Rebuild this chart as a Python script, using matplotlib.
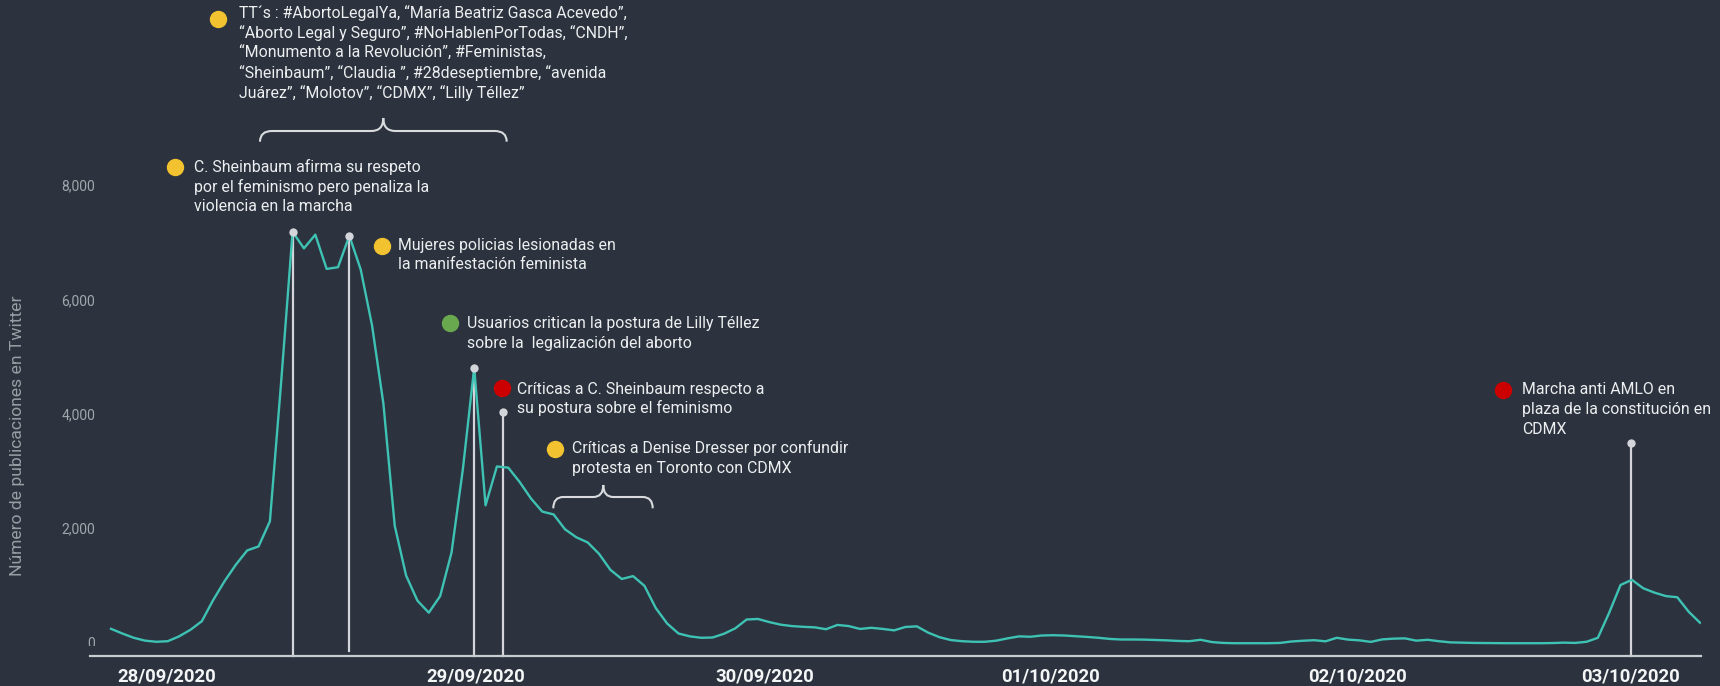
import matplotlib
matplotlib.use("Agg")
import matplotlib.pyplot as plt
from matplotlib.path import Path
from matplotlib.patches import PathPatch
from matplotlib.transforms import Bbox, TransformedBbox, blended_transform_factory

# ---------------- data ----------------
values = [257, 175, 100, 50, 30, 40, 125, 240, 390, 760,
          1090, 1380, 1630, 1700, 2140, 4600, 7210, 6920, 7160, 6560,
          6590, 7140, 6550, 5570, 4200, 2060, 1190, 750, 540, 830,
          1590, 3050, 4830, 2420, 3100, 3080, 2830, 2540, 2310, 2260,
          2000, 1860, 1770, 1570, 1290, 1130, 1180, 1010, 620, 350,
          175, 125, 100, 105, 170, 265, 420, 430, 375, 330,
          305, 292, 283, 250, 325, 305, 255, 275, 255, 230,
          290, 300, 190, 110, 60, 40, 30, 30, 50, 90,
          125, 118, 140, 145, 140, 128, 115, 100, 80, 70,
          70, 68, 62, 55, 45, 40, 65, 25, 10, 5,
          5, 5, 5, 10, 35, 48, 58, 38, 100, 68,
          55, 28, 72, 85, 90, 50, 65, 40, 20, 15,
          10, 8, 5, 5, 5, 5, 5, 8, 15, 10,
          30, 100, 540, 1025, 1115, 967, 890, 830, 810, 557,
          364]
x_idx = list(range(len(values)))

date_labels = ["28/09/2020", "29/09/2020", "30/09/2020",
               "01/10/2020", "02/10/2020", "03/10/2020"]
date_pos = [4.9, 32.1, 57.6, 82.8, 109.8, 133.9]

y_ticks = [0, 2000, 4000, 6000, 8000]
y_tick_labels = ["0", "2,000", "4,000", "6,000", "8,000"]

# event markers (x index, dot height, bottom of stem)
marker_x = [16, 21, 32, 34.5, 133.9]
marker_top = [7210, 7140, 4830, 4060, 3520]
marker_bottom = [-219, -130, -219, -219, -219]

# annotation texts
ann_tt = ["TT´s : #AbortoLegalYa, “María Beatriz Gasca Acevedo”,",
          "“Aborto Legal y Seguro”, #NoHablenPorTodas, “CNDH”,",
          "“Monumento a la Revolución”, #Feministas,",
          "“Sheinbaum”, “Claudia ”, #28deseptiembre, “avenida",
          "Juárez”, “Molotov”, “CDMX”, “Lilly Téllez”"]
ann_shein = ["C. Sheinbaum afirma su respeto",
             "por el feminismo pero penaliza la",
             "violencia en la marcha"]
ann_mujeres = ["Mujeres policias lesionadas en",
               "la manifestación feminista"]
ann_usuarios = ["Usuarios critican la postura de Lilly Téllez",
                "sobre la  legalización del aborto"]
ann_criticas = ["Críticas a C. Sheinbaum respecto a",
                "su postura sobre el feminismo"]
ann_denise = ["Críticas a Denise Dresser por confundir",
              "protesta en Toronto con CDMX"]
ann_marcha = ["Marcha anti AMLO en",
              "plaza de la constitución en",
              "CDMX"]

# ---------------- style ----------------
W, H = 1720, 686
BG = "#2c333e"
LINE = "#3ec2b4"
TXT = "#eceef0"
GREY = "#a3a7ad"
STEM = "#d3d5da"
YEL = "#f2c230"
GRN = "#6aa84f"
RED = "#cc0000"
FONT = ["Roboto", "DejaVu Sans"]
plt.rcParams["font.family"] = FONT

fig = plt.figure(figsize=(W / 100, H / 100), dpi=100, facecolor=BG)


def fx(x):
    return x / W


def fy(y):
    return 1 - y / H


ax_left, ax_right, ax_bottom = 90, 1701, 656
ax = fig.add_axes([fx(ax_left), fy(ax_bottom), (ax_right - ax_left) / W, ax_bottom / H])
ax.set_facecolor(BG)

px_per_unit = 57.1 / 1000.0
zero_px = 643.5
ax.set_ylim((zero_px - ax_bottom) / px_per_unit, zero_px / px_per_unit)
step = 11.35
x0px = 111
ax.set_xlim((ax_left - x0px) / step, (ax_right - x0px) / step)

for s in ["left", "right", "top"]:
    ax.spines[s].set_visible(False)
ax.spines["bottom"].set_color("#c9ccd0")
ax.spines["bottom"].set_linewidth(1.6)

# stems
for mx, mt, mb in zip(marker_x, marker_top, marker_bottom):
    ax.plot([mx, mx], [mb, mt], color=STEM, lw=1.6, zorder=2, clip_on=False)
    ax.scatter([mx], [mt], s=36, color=STEM, zorder=4, clip_on=False, linewidths=0)

# main line
ax.plot(x_idx, values, color=LINE, lw=1.7, zorder=3, solid_joinstyle="round")

# x ticks
ax.set_xticks(date_pos)
ax.set_xticklabels(date_labels, fontsize=13.3, fontweight="bold", color="#f4f5f6")
ax.tick_params(axis="x", length=0, pad=8)

# y ticks (labels sit just inside the plot area)
ax.set_yticks([])
trans = blended_transform_factory(fig.transFigure, ax.transData)
for v, lab in zip(y_ticks, y_tick_labels):
    t = fig.text(fx(95), v, lab, transform=trans, ha="right", va="center",
                 fontsize=10, color=GREY)
    if v == 0:
        # the zero label is cut at the baseline like in the reference
        t.set_clip_on(True)
        t.set_clip_box(TransformedBbox(Bbox([[0, fy(645.5)], [1, 1]]), fig.transFigure))

fig.text(fx(18), fy(436), "Número de publicaciones en Twitter", rotation=90,
         ha="center", va="center", fontsize=12.6, color="#9a9ea4")


def annotate(lines, dot_xy, dot_color, text_x, first_baseline, pitch=20):
    fig.add_artist(plt.Line2D([fx(dot_xy[0])], [fy(dot_xy[1])], marker="o",
                              markersize=11.5, color=dot_color, linestyle="none",
                              transform=fig.transFigure))
    for k, line in enumerate(lines):
        fig.text(fx(text_x), fy(first_baseline + k * pitch), line, ha="left",
                 va="baseline", fontsize=11.45, color=TXT)


annotate(ann_tt, (218.3, 19.3), YEL, 239.3, 17.6)
annotate(ann_shein, (175, 166.7), YEL, 194, 171.9, pitch=19.7)
annotate(ann_mujeres, (381.7, 246), YEL, 398.3, 250.2, pitch=19.3)
annotate(ann_usuarios, (450, 323.3), GRN, 466.7, 328.5, pitch=19.5)
annotate(ann_criticas, (501.7, 388.3), RED, 517.3, 393.5, pitch=20)
annotate(ann_denise, (555, 449), YEL, 572.3, 453.5, pitch=20)
annotate(ann_marcha, (1503.3, 390), RED, 1521.7, 394.5, pitch=19.9)


def brace(x0, x1, xt, yb, ym, yt, r):
    pts = [(x0, yb), (x0, ym), (x0 + r, ym),
           (xt - r, ym), (xt, ym), (xt, yt),
           (xt, ym), (xt + r, ym),
           (x1 - r, ym), (x1, ym), (x1, yb)]
    codes = [Path.MOVETO, Path.CURVE3, Path.CURVE3,
             Path.LINETO, Path.CURVE3, Path.CURVE3,
             Path.CURVE3, Path.CURVE3,
             Path.LINETO, Path.CURVE3, Path.CURVE3]
    verts = [(fx(a), fy(b)) for a, b in pts]
    p = PathPatch(Path(verts, codes), facecolor="none", edgecolor="#d9dbde",
                  lw=1.5, transform=fig.transFigure)
    fig.add_artist(p)


brace(260, 506.7, 383.3, 141.7, 131, 118, 12)
brace(553.3, 652.7, 603.3, 508.3, 497, 485, 10)

fig.savefig("out.png", dpi=100, facecolor=BG)
